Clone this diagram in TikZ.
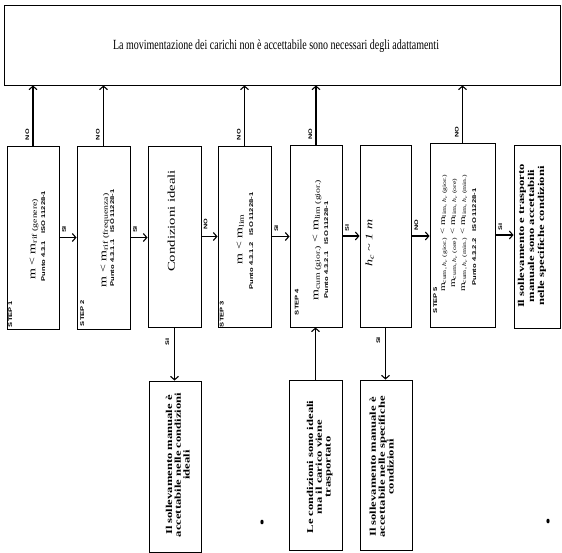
\documentclass[tikz,border=0pt]{standalone}
\usepackage{fontspec}
\usepackage{graphicx}
\setmainfont{Liberation Serif}
\newfontfamily\labfont{Liberation Sans}
\usetikzlibrary{arrows.meta}
\newcommand\vtext[1]{\scalebox{1}[1.4]{\rotatebox{90}{\begin{tabular}{@{}c@{}}#1\end{tabular}}}}
\newcommand\htext[1]{\scalebox{1}[1.4]{#1}}
\newcommand\hc{\textit{h}\textsubscript{\textit{c}}}
\begin{document}
\begin{tikzpicture}[x=1pt,y=-1pt,
  box/.style={draw, line width=0.9pt, inner sep=0pt},
  txt/.style={inner sep=0pt},
  lab/.style={inner sep=0pt, font=\labfont\bfseries\fontsize{5.2}{6}\selectfont},
  steplab/.style={inner sep=0pt, font=\labfont\bfseries\fontsize{5.4}{6}\selectfont},
  punto/.style={inner sep=0pt, font=\labfont\bfseries\fontsize{5.4}{6}\selectfont},
  formula/.style={inner sep=0pt, font=\fontsize{10}{12}\selectfont},
  result/.style={inner sep=0pt, font=\bfseries\fontsize{9}{8.6}\selectfont},
  arr/.style={line width=1.1pt, -{Straight Barb[length=3.5pt,width=8pt]}}
]
\useasboundingbox (0,0) rectangle (562,553);

% top box
\node[box, minimum width=556pt, minimum height=80pt] (top) at (282,45) {};
\node[txt, font=\fontsize{10}{12}\selectfont] (toptext) at (276,46)
  {\htext{La movimentazione dei carichi non è accettabile sono necessari degli adattamenti}};

% row of step boxes
\node[box, minimum width=52pt, minimum height=183pt] (b1) at (33,237.5) {};
\node[box, minimum width=53pt, minimum height=183pt] (b2) at (103.5,237.5) {};
\node[box, minimum width=53pt, minimum height=181pt] (b3) at (174.5,236.5) {};
\node[box, minimum width=53pt, minimum height=181pt] (b4) at (244.5,236.5) {};
\node[box, minimum width=52pt, minimum height=182pt] (b5) at (316,236) {};
\node[box, minimum width=51pt, minimum height=182pt] (b6) at (385.5,236) {};
\node[box, minimum width=65pt, minimum height=184pt] (b7) at (462.5,235) {};
\node[box, minimum width=46.5pt, minimum height=183pt] (b8) at (537.25,236.5) {};

% bottom boxes
\node[box, minimum width=52pt, minimum height=171pt] (c1) at (175,466.5) {};
\node[box, minimum width=53pt, minimum height=170pt] (c2) at (315.5,465) {};
\node[box, minimum width=52pt, minimum height=170pt] (c3) at (386,465) {};

% texts in step boxes
\node[steplab] (s1) at (11,314) {\vtext{STEP 1}};
\node[formula] (f1) at (33,239) {\vtext{m < m\textsubscript{rif (genere)}}};
\node[punto] (p1) at (44,236) {\vtext{Punto 4.3.1\quad ISO 11228-1}};

\node[steplab] (s2) at (83,313) {\vtext{STEP 2}};
\node[formula] (f2) at (104,240) {\vtext{m < m\textsubscript{rif (frequenza)}}};
\node[punto] (p2) at (113,238) {\vtext{Punto 4.3.1.1\quad ISO 11228-1}};

\node[txt, font=\fontsize{10.5}{12}\selectfont] (t3) at (172.5,221) {\vtext{Condizioni ideali}};

\node[steplab] (s3) at (222.5,314) {\vtext{STEP 3}};
\node[formula] (f4) at (240,239) {\vtext{m < m\textsubscript{lim}}};
\node[punto] (p4) at (252,241) {\vtext{Punto 4.3.1.2\quad ISO 11228-1}};

\node[steplab] (s4) at (297.5,302) {\vtext{STEP 4}};
\node[formula] (f5) at (316,240) {\vtext{m\textsubscript{cum (gior.)} < m\textsubscript{lim (gior.)}}};
\node[punto] (p5) at (327,250) {\vtext{Punto 4.3.2.1\quad ISO 11228-1}};

\node[txt, font=\itshape\fontsize{10}{12}\selectfont] (t6) at (370,243)
  {\vtext{\hc{} \char"7E{} 1 m}};

\node[steplab] (s5) at (436,300) {\vtext{STEP 5}};
\node[txt, font=\fontsize{7.9}{10}\selectfont] (f7) at (453,233)
  {\vtext{m\textsubscript{cum, \hc{} (gior.)} < m\textsubscript{lim, \hc{} (gior.)}\\
          m\textsubscript{cum, \hc{} (ore)} < m\textsubscript{lim, \hc{} (ore)}\\
          m\textsubscript{cum, \hc{} (min.)} < m\textsubscript{lim, \hc{} (min.)}}};
\node[punto] (p7) at (475,237) {\vtext{Punto 4.3.2.2\quad ISO 11228-1}};

\node[result, font=\bfseries\fontsize{9}{10}\selectfont] (t8) at (532,236)
  {\vtext{Il sollevamento e trasporto\\manuale sono accettabili\\nelle specifiche condizioni}};

% bottom texts
\node[result] (tc1) at (179,465)
  {\vtext{Il sollevamento manuale è\\accettabile nelle condizioni\\ideali}};
\node[result] (tc2) at (320,467)
  {\vtext{Le condizioni sono ideali\\ma il carico viene\\trasportato}};
\node[result] (tc3) at (383,467)
  {\vtext{Il sollevamento manuale è\\accettabile nelle specifiche\\condizioni}};

% NO arrows to the top box
\foreach \b in {b1,b2,b4,b5,b7}{
  \draw[arr] (\b.north) -- (\b.north |- top.south)
    node[lab, pos=0.18, left=1.5pt] {\vtext{NO}};
}

% horizontal arrows
\draw[arr] (b1.east) -- (b1.east -| b2.west) node[lab, pos=0.3, above=4pt] {\vtext{SI}};
\draw[arr] (b2.east) -- (b2.east -| b3.west) node[lab, pos=0.3, above=4pt] {\vtext{SI}};
\draw[arr] (b3.east) -- (b3.east -| b4.west) node[lab, pos=0.3, above=6pt] {\vtext{NO}};
\draw[arr] (b4.east) -- (b4.east -| b5.west) node[lab, pos=0.3, above=4pt] {\vtext{SI}};
\draw[arr] (b5.east) -- (b5.east -| b6.west) node[lab, pos=0.3, above=4pt] {\vtext{SI}};
\draw[arr] (b6.east) -- (b6.east -| b7.west) node[lab, pos=0.3, above=5pt] {\vtext{NO}};
\draw[arr] (b7.east) -- (b7.east -| b8.west) node[lab, pos=0.3, above=4pt] {\vtext{SI}};

% vertical arrows to/from the bottom boxes
\draw[arr] (b3.south) -- (b3.south |- c1.north) node[lab, pos=0.27, left=3pt] {\vtext{SI}};
\draw[arr] (b6.south) -- (b6.south |- c3.north) node[lab, pos=0.25, left=3pt] {\vtext{SI}};
\draw[arr] (c2.north) -- (c2.north |- b5.south);

% scan specks
\fill (262,522) ellipse (1.6pt and 2.4pt);
\fill (548,521) ellipse (1.6pt and 2.4pt);
\end{tikzpicture}
\end{document}
